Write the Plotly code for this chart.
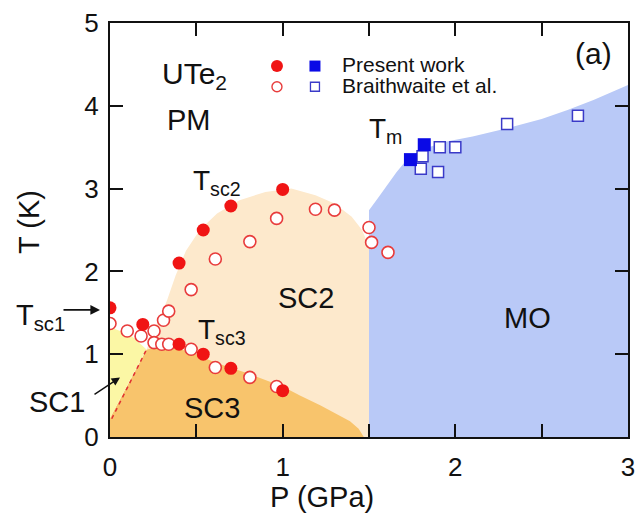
import plotly.graph_objects as go

# ---- phase-diagram data: UTe2, T (K) versus P (GPa) ----
# Present work: superconducting transitions (filled red circles)
present_sc_P = [0.0, 0.19, 0.40, 0.54, 0.70, 1.00, 0.40, 0.54, 0.70, 1.00]
present_sc_T = [1.56, 1.36, 1.12, 1.00, 0.83, 0.56, 2.10, 2.50, 2.79, 2.99]

# Braithwaite et al.: superconducting transitions (open red circles)
braith_sc_P = [0.0, 0.10, 0.18, 0.255, 0.31, 0.34, 0.255, 0.30, 0.34, 0.47, 0.61, 0.81, 0.965,
               0.47, 0.61, 0.81, 0.965, 1.19, 1.30, 1.50, 1.515, 1.61]
braith_sc_T = [1.37, 1.28, 1.22, 1.28, 1.41, 1.52, 1.14, 1.12, 1.12, 1.06, 0.84, 0.72, 0.61,
               1.78, 2.15, 2.36, 2.64, 2.75, 2.74, 2.53, 2.35, 2.23]

# Magnetic ordering temperature Tm
present_m_P = [1.74, 1.82]
present_m_T = [3.35, 3.53]
braith_m_P = [1.81, 1.80, 1.91, 2.00, 1.90, 2.30, 2.71]
braith_m_T = [3.39, 3.24, 3.50, 3.50, 3.20, 3.78, 3.88]

# Phase boundaries (closed outlines of the shaded regions)
sc2_P = [0.21, 0.27, 0.33, 0.38, 0.44, 0.52, 0.62, 0.75, 0.90, 1.05, 1.19, 1.30, 1.40, 1.46, 1.50, 1.50, 0.21]
sc2_T = [1.05, 1.35, 1.65, 1.95, 2.25, 2.50, 2.70, 2.86, 2.96, 3.00, 2.92, 2.82, 2.66, 2.50, 2.30, 0.00, 0.00]

sc3_P = [0.0, 0.0, 0.21, 0.25, 0.35, 0.45, 0.62, 0.81, 1.00, 1.10, 1.22, 1.32, 1.39, 1.44, 1.47]
sc3_T = [0.0, 0.23, 1.05, 1.08, 1.08, 1.04, 0.89, 0.76, 0.61, 0.50, 0.38, 0.27, 0.19, 0.10, 0.0]

sc1_P = [0.0, 0.0, 0.07, 0.13, 0.21, 0.0]
sc1_T = [0.23, 1.33, 1.27, 1.21, 1.06, 0.23]

mo_P = [1.50, 1.50, 1.55, 1.60, 1.66, 1.72, 1.80, 1.95, 2.10, 2.30, 2.50, 2.65, 2.80, 3.00, 3.00]
mo_T = [0.00, 2.74, 2.88, 3.03, 3.20, 3.35, 3.47, 3.57, 3.63, 3.73, 3.84, 3.95, 4.07, 4.25, 0.00]

# SC1 / SC3 dashed boundary
sc13_P = [0.01, 0.21]
sc13_T = [0.22, 1.05]

x_tickvals = [0, 0.5, 1, 1.5, 2, 2.5, 3]
x_ticktext = ["0", "", "1", "", "2", "", "3"]
y_tickvals = [0, 1, 2, 3, 4, 5]
y_ticktext = ["0", "1", "2", "3", "4", "5"]

FONT = "Liberation Sans, Arial, Helvetica, sans-serif"
RED = "#f01414"
BLUE = "#0a0ae6"

fig = go.Figure()


def region(px, ty, color):
    fig.add_trace(go.Scatter(x=px, y=ty, mode="lines", fill="toself", fillcolor=color,
                             line=dict(width=0), hoverinfo="skip", showlegend=False))


region(sc2_P, sc2_T, "#fde9cc")
region(sc3_P, sc3_T, "#f8c46c")
region(sc1_P, sc1_T, "#fbf7a5")
region(mo_P, mo_T, "#b9c9f7")

fig.add_trace(go.Scatter(x=sc13_P, y=sc13_T, mode="lines",
                         line=dict(color="#e03030", width=1.5, dash="4px,4px"),
                         hoverinfo="skip", showlegend=False))

# data points
fig.add_trace(go.Scatter(x=braith_sc_P, y=braith_sc_T, mode="markers",
                         marker=dict(symbol="circle", size=12, color="white",
                                     line=dict(color="#e83c3c", width=1.6)),
                         showlegend=False))
fig.add_trace(go.Scatter(x=present_sc_P, y=present_sc_T, mode="markers",
                         marker=dict(symbol="circle", size=13, color=RED, line=dict(width=0)),
                         showlegend=False))
fig.add_trace(go.Scatter(x=braith_m_P, y=braith_m_T, mode="markers",
                         marker=dict(symbol="square", size=11, color="white",
                                     line=dict(color="#3a3ac8", width=1.5)),
                         showlegend=False))
fig.add_trace(go.Scatter(x=present_m_P, y=present_m_T, mode="markers",
                         marker=dict(symbol="square", size=13, color=BLUE, line=dict(width=0)),
                         showlegend=False))

# hand-built legend keys (two symbols per entry)
LEG_KEY_P = [0.967, 1.187]
LEG_ROW_T = [4.48, 4.23]
fig.add_trace(go.Scatter(x=[LEG_KEY_P[0]], y=[LEG_ROW_T[0]], mode="markers",
                         marker=dict(symbol="circle", size=12, color=RED), showlegend=False,
                         hoverinfo="skip"))
fig.add_trace(go.Scatter(x=[LEG_KEY_P[1]], y=[LEG_ROW_T[0]], mode="markers",
                         marker=dict(symbol="square", size=11, color=BLUE), showlegend=False,
                         hoverinfo="skip"))
fig.add_trace(go.Scatter(x=[LEG_KEY_P[0]], y=[LEG_ROW_T[1]], mode="markers",
                         marker=dict(symbol="circle", size=10, color="white",
                                     line=dict(color="#e83c3c", width=1.4)),
                         showlegend=False, hoverinfo="skip"))
fig.add_trace(go.Scatter(x=[LEG_KEY_P[1]], y=[LEG_ROW_T[1]], mode="markers",
                         marker=dict(symbol="square", size=9, color="white",
                                     line=dict(color="#3a3ac8", width=1.3)),
                         showlegend=False, hoverinfo="skip"))

annotations = []


def label(text, x, y, size, xanchor="center", xref="x", yref="y", angle=0):
    annotations.append(dict(text=text, x=x, y=y, xref=xref, yref=yref, showarrow=False,
                            xanchor=xanchor, yanchor="middle", textangle=angle,
                            font=dict(family=FONT, size=size, color="#111")))


label("Present work", 1.332, 4.50, 21, xanchor="left")
label("Braithwaite et al.", 1.332, 4.24, 21, xanchor="left")
label("UTe<sub>2</sub>", 0.29, 4.36, 30, xanchor="left")
label("PM", 0.32, 3.83, 29, xanchor="left")
label("T<sub>sc2</sub>", 0.47, 3.07, 28, xanchor="left")
label("T<sub>m</sub>", 1.49, 3.70, 28, xanchor="left")
label("(a)", 2.80, 4.63, 30)
label("SC2", 1.135, 1.68, 29)
label("MO", 2.42, 1.44, 29)
label("SC3", 0.59, 0.35, 29)
label("T<sub>sc3</sub>", 0.50, 1.27, 28, xanchor="left")
label("T<sub>sc1</sub>", -0.185, 0.29, 29, xanchor="left", xref="paper", yref="paper")
label("SC1", -0.102, 0.085, 29, xref="paper", yref="paper")
label("T (K)", -0.156, 0.52, 29, xref="paper", yref="paper", angle=-90)
label("P (GPa)", 0.409, -0.145, 29, xref="paper", yref="paper")

# arrows pointing at Tsc1 and the SC1 pocket
annotations.append(dict(x=-0.0193, y=0.307, xref="paper", yref="paper", text="", showarrow=True,
                        arrowhead=2, arrowsize=1.2, arrowwidth=1.6, arrowcolor="#111",
                        ax=-38, ay=0))
annotations.append(dict(x=0.058, y=0.72, xref="x", yref="y", text="", showarrow=True,
                        arrowhead=2, arrowsize=1.2, arrowwidth=1.4, arrowcolor="#111",
                        ax=-27, ay=18))

axis_common = dict(showline=True, linecolor="#111", linewidth=2, mirror="ticks",
                   ticks="inside", ticklen=13, tickwidth=1.5, tickcolor="#111",
                   showgrid=False, zeroline=False, automargin=False,
                   tickfont=dict(family=FONT, size=26, color="#111"))

fig.update_layout(
    width=638, height=518,
    margin=dict(l=110, r=10, t=23, b=81, autoexpand=False),
    paper_bgcolor="white", plot_bgcolor="white",
    showlegend=False,
    xaxis=dict(range=[0, 3], tickmode="array", tickvals=x_tickvals, ticktext=x_ticktext,
               ticklabelstandoff=6, **axis_common),
    yaxis=dict(range=[0, 5], tickmode="array", tickvals=y_tickvals, ticktext=y_ticktext,
               ticklabelstandoff=4, **axis_common),
    annotations=annotations,
)

fig.write_html("out.html")
